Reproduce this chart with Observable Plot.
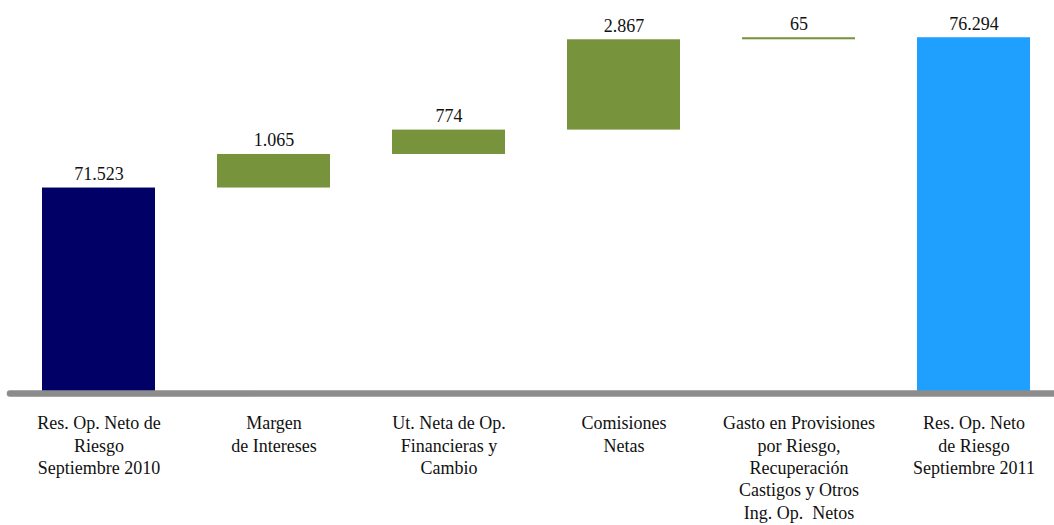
<!DOCTYPE html>
<html>
<head>
<meta charset="utf-8">
<script src="https://cdn.jsdelivr.net/npm/d3@7"></script>
<script src="https://cdn.jsdelivr.net/npm/@observablehq/plot@0.6"></script>
<style>
  html, body { margin: 0; padding: 0; background: #fff; }
  #chart svg { display: block; }
</style>
</head>
<body>
<div id="chart"></div>
<script>
const categories = [
  "Res. Op. Neto de\nRiesgo\nSeptiembre 2010",
  "Margen\nde Intereses",
  "Ut. Neta de Op.\nFinancieras y\nCambio",
  "Comisiones\nNetas",
  "Gasto en Provisiones\npor Riesgo,\nRecuperación\nCastigos y Otros\nIng. Op.  Netos",
  "Res. Op. Neto\nde Riesgo\nSeptiembre 2011"
];
const values = [71523, 1065, 774, 2867, 65, 76294];
const kinds = ["start", "delta", "delta", "delta", "delta", "end"];
const valueLabels = ["71.523", "1.065", "774", "2.867", "65", "76.294"];
const axisMin = 65000;
const axisMax = 77000;

const colors = { start: "#000066", delta: "#77933C", end: "#1FA0FF" };

let running = 0;
const rows = categories.map((c, i) => {
  let y1, y2;
  if (kinds[i] === "delta") { y1 = running; y2 = running + values[i]; running = y2; }
  else { y1 = axisMin; y2 = values[i]; running = values[i]; }
  return { cat: c, y1, y2, kind: kinds[i], label: valueLabels[i] };
});

const font = "'Liberation Serif', 'DejaVu Serif', serif";

const chart = Plot.plot({
  width: 1054,
  height: 525,
  marginLeft: 10,
  marginRight: 0,
  marginTop: 15,
  marginBottom: 132,
  style: { fontFamily: font, background: "#fff" },
  x: { domain: categories, range: [10, 1062], paddingInner: 0.355, paddingOuter: 0.1775, label: null },
  y: { domain: [axisMin, axisMax], axis: null },
  marks: [
    Plot.barY(rows, { x: "cat", y1: "y1", y2: "y2", fill: d => colors[d.kind] }),
    Plot.ruleY([axisMin], { stroke: "#8C8C8C", strokeWidth: 6.5, strokeLinecap: "round" }),
    Plot.text(rows, { x: "cat", y: "y2", text: "label", dy: -14, fontSize: 18, fill: "#111", fontFamily: font }),
    Plot.axisX({ tickSize: 0, tickPadding: 20, fontSize: 18, lineHeight: 1.24, fill: "#111", fontFamily: font, label: null })
  ]
});
document.getElementById("chart").appendChild(chart);
</script>
</body>
</html>
